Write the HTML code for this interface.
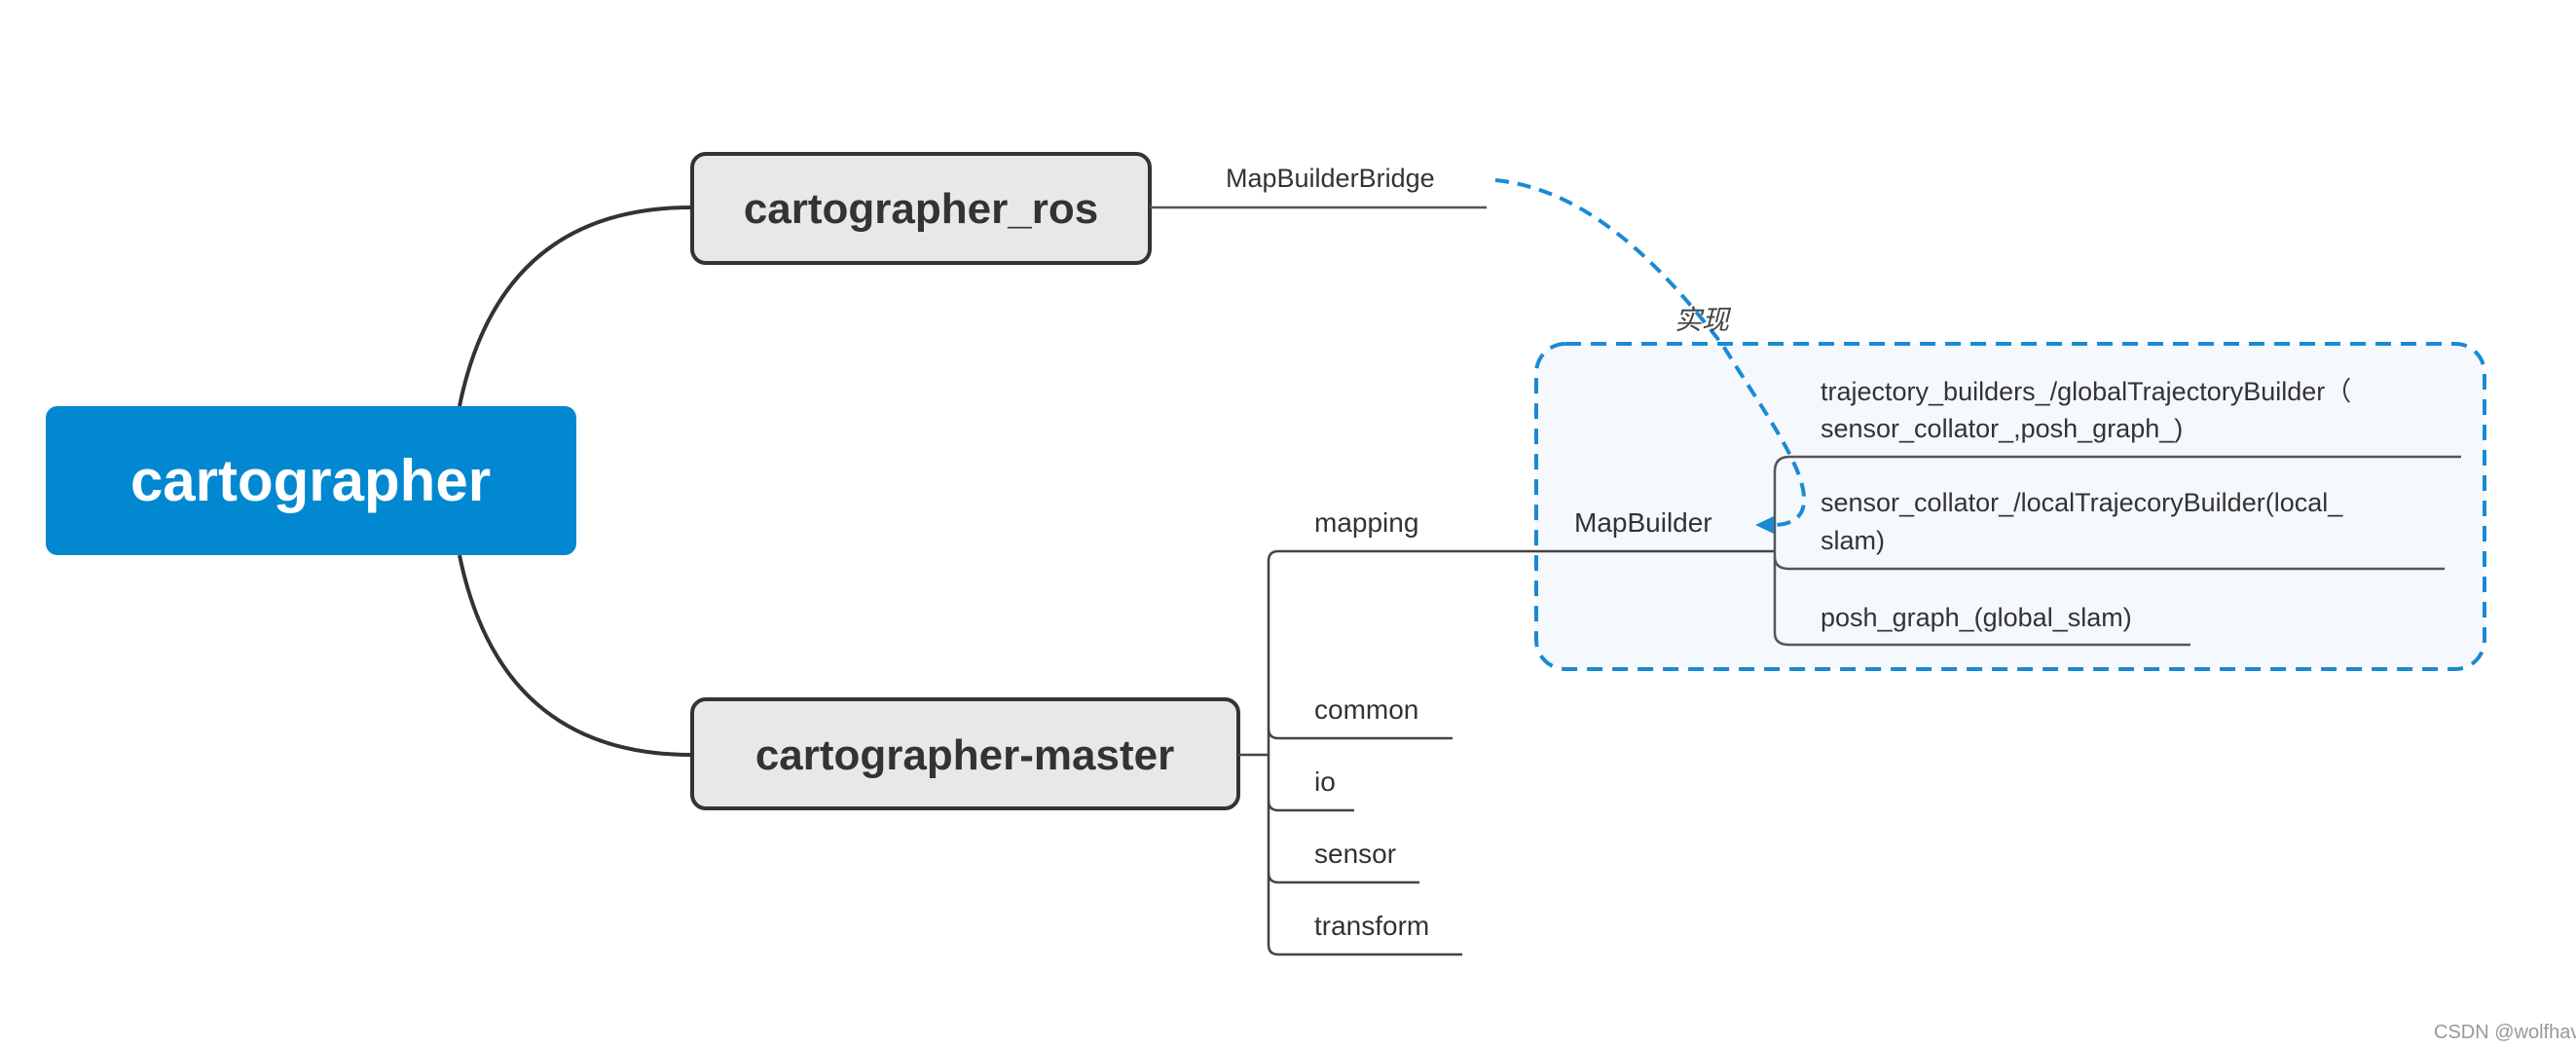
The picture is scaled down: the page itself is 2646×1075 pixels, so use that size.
<!DOCTYPE html>
<html><head><meta charset="utf-8"><style>
html,body{margin:0;padding:0;background:#fff;}
svg{display:block;}
text{font-family:"Liberation Sans","Noto Sans CJK SC",sans-serif;}
</style></head><body>
<svg width="2646" height="1075" viewBox="0 0 2646 1075" xmlns="http://www.w3.org/2000/svg">
<rect width="2646" height="1075" fill="#fff"/>
<!-- root connectors -->
<path d="M472 417 C500 280,580 213,710 213" fill="none" stroke="#333" stroke-width="4"/>
<path d="M472 570 C500 707,580 775,710 775" fill="none" stroke="#333" stroke-width="4"/>
<!-- root -->
<rect x="47" y="417" width="545" height="153" rx="12" fill="#0288d1"/>
<text x="319" y="514" font-size="60" font-weight="bold" fill="#fff" text-anchor="middle">cartographer</text>
<!-- ros box -->
<rect x="711" y="158" width="470" height="112" rx="14" fill="#e8e8e8" stroke="#333" stroke-width="4"/>
<text x="946" y="229" font-size="44" font-weight="bold" fill="#333" text-anchor="middle">cartographer_ros</text>
<!-- master box -->
<rect x="711" y="718" width="561" height="112" rx="14" fill="#e8e8e8" stroke="#333" stroke-width="4"/>
<text x="991" y="790" font-size="44" font-weight="bold" fill="#333" text-anchor="middle">cartographer-master</text>
<!-- MapBuilderBridge -->
<line x1="1181" y1="213" x2="1527" y2="213" stroke="#555" stroke-width="2.5"/>
<text x="1259" y="192" font-size="27" fill="#333">MapBuilderBridge</text>
<!-- dashed group box -->
<rect x="1578" y="353" width="974" height="334" rx="30" fill="#f5f9fd" stroke="#1a8ad4" stroke-width="4" stroke-dasharray="16,10"/>
<!-- master branches -->
<line x1="1272" y1="775" x2="1303" y2="775" stroke="#444" stroke-width="2.5"/>
<path d="M1313 566 Q1303 566 1303 576 L1303 970 Q1303 980 1313 980" fill="none" stroke="#444" stroke-width="2.5"/>
<line x1="1313" y1="566" x2="1823" y2="566" stroke="#444" stroke-width="2.5"/>
<text x="1350" y="546" font-size="28" fill="#333">mapping</text>
<text x="1617" y="546" font-size="28" fill="#333">MapBuilder</text>
<path d="M1303 748 Q1303 758 1313 758 L1492 758" fill="none" stroke="#444" stroke-width="2.5"/>
<text x="1350" y="738" font-size="28" fill="#333">common</text>
<path d="M1303 822 Q1303 832 1313 832 L1391 832" fill="none" stroke="#444" stroke-width="2.5"/>
<text x="1350" y="812" font-size="28" fill="#333">io</text>
<path d="M1303 896 Q1303 906 1313 906 L1458 906" fill="none" stroke="#444" stroke-width="2.5"/>
<text x="1350" y="886" font-size="28" fill="#333">sensor</text>
<line x1="1313" y1="980" x2="1502" y2="980" stroke="#444" stroke-width="2.5"/>
<text x="1350" y="960" font-size="28" fill="#333">transform</text>
<!-- MapBuilder branches -->
<path d="M2528 469 L1838 469 Q1823 469 1823 484 L1823 650 Q1823 662 1838 662 L2250 662" fill="none" stroke="#555" stroke-width="2.5"/>
<path d="M1823 572 Q1823 584 1838 584 L2511 584" fill="none" stroke="#555" stroke-width="2.5"/>
<text x="1870" y="411" font-size="27" fill="#333">trajectory_builders_/globalTrajectoryBuilder（</text>
<text x="1870" y="449" font-size="27" fill="#333">sensor_collator_,posh_graph_)</text>
<text x="1870" y="525" font-size="27" fill="#333">sensor_collator_/localTrajecoryBuilder(local_</text>
<text x="1870" y="564" font-size="27" fill="#333">slam)</text>
<text x="1870" y="643" font-size="27" fill="#333">posh_graph_(global_slam)</text>
<!-- dashed connector -->
<path d="M1536 185 C1640 195,1720 290,1770 355 C1810 420,1855 480,1853 515 C1852 535,1835 540,1815 539" fill="none" stroke="#1a8ad4" stroke-width="4" stroke-dasharray="14,9"/>
<polygon points="1803,539 1822,530 1822,548" fill="#1a8ad4"/>
<text x="1720" y="338" font-size="28" fill="#444" font-style="italic">实现</text>
<!-- watermark -->
<text x="2500" y="1066" font-size="20" fill="#999">CSDN @wolfhaven</text>
</svg>
</body></html>
